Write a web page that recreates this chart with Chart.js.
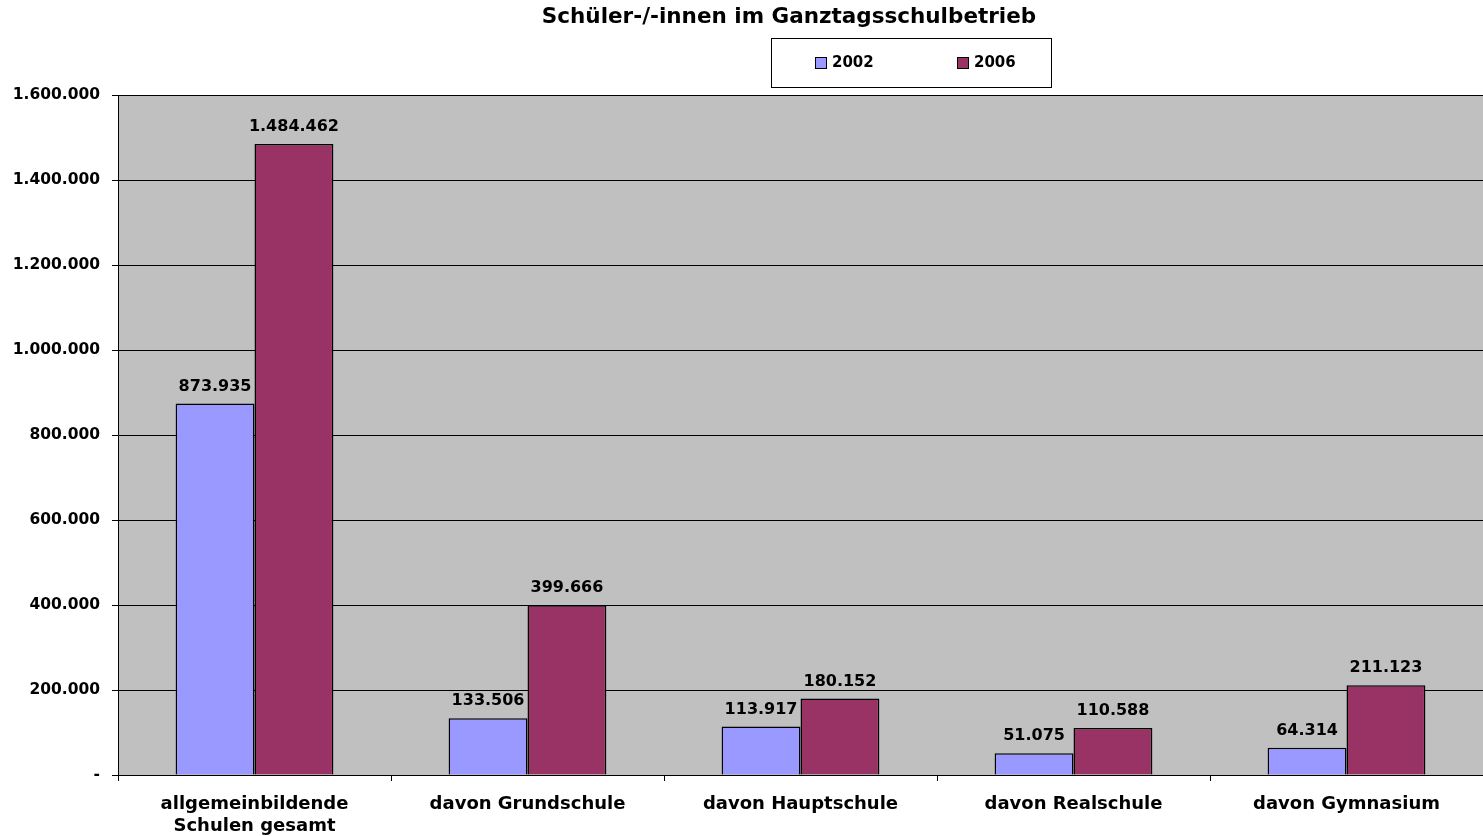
<!DOCTYPE html>
<html>
<head>
<meta charset="utf-8">
<script src="https://cdn.jsdelivr.net/npm/chart.js@4.4.0/dist/chart.umd.min.js"></script>
<style>
  html, body { margin: 0; padding: 0; background: #fff; }
  #wrap { width: 1483px; height: 836px; position: relative; }
</style>
</head>
<body>
<div id="wrap"><canvas id="chart"></canvas></div>
<script>
// ---- data ----
const categories = [
  ['allgemeinbildende', 'Schulen gesamt'],
  'davon Grundschule',
  'davon Hauptschule',
  'davon Realschule',
  'davon Gymnasium'
];
const values2002 = [873935, 133506, 113917, 51075, 64314];
const values2006 = [1484462, 399666, 180152, 110588, 211123];
const seriesNames = ['2002', '2006'];
const chartTitle = 'Schüler-/-innen im Ganztagsschulbetrieb';

// the original is horizontally stretched, DejaVu's wider glyphs fit it better
const FONT = '"DejaVu Sans", "Liberation Sans", Arial, sans-serif';

// 1.484.462 style, zero shown as "-"
function fmt(v) {
  if (v === 0) return '-';
  return String(Math.round(v)).replace(/\B(?=(\d{3})+(?!\d))/g, '.');
}

// gray plot background
const plotBg = {
  id: 'plotBg',
  beforeDraw(chart) {
    const { ctx, chartArea: a } = chart;
    ctx.save();
    ctx.fillStyle = '#C0C0C0';
    ctx.fillRect(a.left, a.top, a.right - a.left, a.bottom - a.top);
    ctx.restore();
  }
};

// value labels above the bars
const barLabels = {
  id: 'barLabels',
  afterDatasetsDraw(chart) {
    const ctx = chart.ctx;
    ctx.save();
    ctx.font = 'bold 16px ' + FONT;
    ctx.fillStyle = '#000';
    ctx.textAlign = 'center';
    ctx.textBaseline = 'bottom';
    chart.data.datasets.forEach((ds, i) => {
      chart.getDatasetMeta(i).data.forEach((bar, j) => {
        ctx.fillText(fmt(ds.data[j]), bar.x, bar.y - 9);
      });
    });
    ctx.restore();
  }
};

// title + framed legend, placed like the original sheet
const header = {
  id: 'header',
  afterDraw(chart) {
    const ctx = chart.ctx;
    ctx.save();
    ctx.fillStyle = '#000';
    ctx.font = 'bold 21.5px ' + FONT;
    ctx.textAlign = 'center';
    ctx.textBaseline = 'middle';
    ctx.fillText(chartTitle, 789, 17);

    // legend box
    ctx.fillStyle = '#fff';
    ctx.fillRect(771.5, 38.5, 280, 49);
    ctx.strokeStyle = '#000';
    ctx.lineWidth = 1;
    ctx.strokeRect(771.5, 38.5, 280, 49);

    const xs = [815, 957];
    ctx.font = 'bold 15px ' + FONT;
    ctx.textAlign = 'left';
    chart.data.datasets.forEach((ds, i) => {
      ctx.fillStyle = ds.backgroundColor;
      ctx.fillRect(xs[i] + 0.5, 57.5, 11, 11);
      ctx.strokeStyle = '#000';
      ctx.strokeRect(xs[i] + 0.5, 57.5, 11, 11);
      ctx.fillStyle = '#000';
      ctx.fillText(ds.label, xs[i] + 17, 63.5);
    });
    ctx.restore();
  }
};

new Chart(document.getElementById('chart'), {
  type: 'bar',
  data: {
    labels: categories,
    datasets: [
      { label: seriesNames[0], data: values2002, backgroundColor: '#9999FF',
        borderColor: '#000', borderWidth: 1.5 },
      { label: seriesNames[1], data: values2006, backgroundColor: '#993366',
        borderColor: '#000', borderWidth: 1.5 }
    ]
  },
  options: {
    responsive: true, maintainAspectRatio: false, animation: false,
    datasets: { bar: { barPercentage: 1, categoryPercentage: 0.578 } },
    layout: { padding: { top: 95, right: 0, bottom: 0, left: 0 } },
    plugins: {
      legend: { display: false },
      title: { display: false },
      tooltip: { enabled: false }
    },
    scales: {
      x: {
        grid: { drawOnChartArea: false, drawTicks: true, tickLength: 6, color: '#000', offset: true },
        border: { color: '#000', width: 1 },
        ticks: { color: '#000', font: { family: FONT, size: 18, weight: 'bold', lineHeight: 1.25 }, padding: 12, maxRotation: 0, autoSkip: false },
        afterFit(s) { s.height = 61; }
      },
      y: {
        min: 0, max: 1600000,
        grid: { color: '#000', lineWidth: 1, tickLength: 6 },
        border: { color: '#000', width: 1 },
        ticks: { stepSize: 200000, color: '#000', padding: 12,
          font: { family: FONT, size: 15.5, weight: 'bold' },
          callback: v => fmt(v) },
        afterFit(s) { s.width = 118; }
      }
    }
  },
  plugins: [plotBg, barLabels, header]
});
</script>
</body>
</html>
